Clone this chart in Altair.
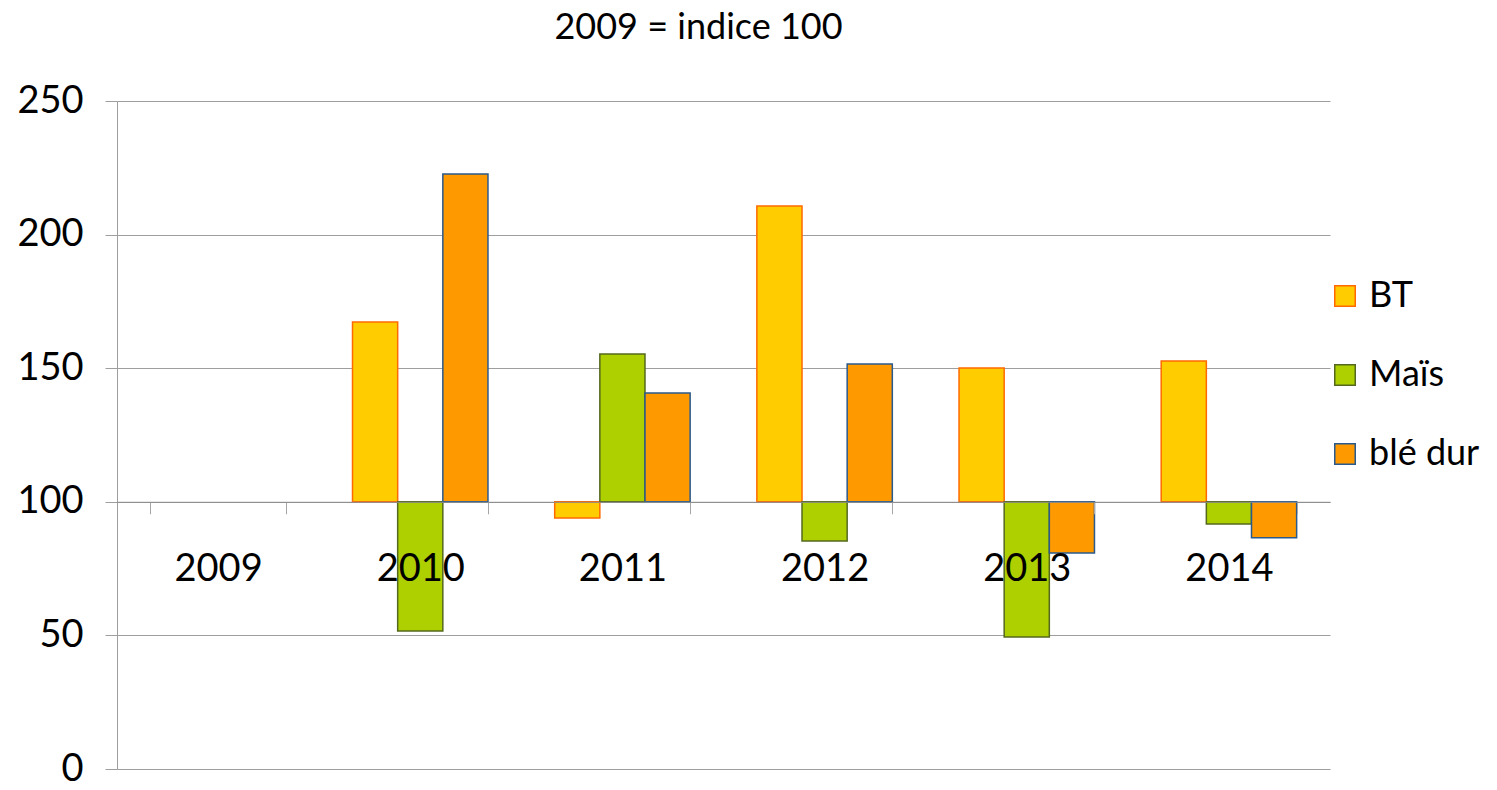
import altair as alt
import pandas as pd

years = ["2009", "2010", "2011", "2012", "2013", "2014"]
series = ["BT", "Maïs", "blé dur"]
bt = [100, 167.3, 93.9, 210.7, 150.1, 152.7]
mais = [100, 51.6, 155.3, 85.3, 49.4, 91.7]
ble_dur = [100, 222.7, 140.7, 151.6, 80.8, 86.5]
fills = ["#FFCC00", "#AECF00", "#FF9900"]
strokes = ["#FF6A00", "#55691E", "#2A5A8C"]
y_ticks = [0, 50, 100, 150, 200, 250]

rows = []
for s, vals in zip(series, [bt, mais, ble_dur]):
    for y, v in zip(years, vals):
        if v != 100:
            rows.append({"annee": y, "serie": s, "valeur": v, "base": 100})
df = pd.DataFrame(rows)

FONT = "Lato"

chart = alt.Chart(df).mark_bar(strokeWidth=1.5).encode(
    x=alt.X("annee:N", scale=alt.Scale(domain=years, paddingInner=0.33, paddingOuter=0.165),
            axis=alt.Axis(title=None, labelAngle=0, offset=-267.2, tickBand="extent",
                          tickSize=12, tickColor="#A6A6A6", domainColor="#8C8C8C",
                          labelFontSize=38, labelFont=FONT, labelColor="black",
                          labelPadding=37, zindex=1, grid=False)),
    xOffset=alt.XOffset("serie:N", scale=alt.Scale(domain=series)),
    y=alt.Y("valeur:Q", scale=alt.Scale(domain=[0, 250], nice=False),
            axis=alt.Axis(title=None, values=y_ticks, grid=True, gridColor="#9E9E9E",
                          domainColor="#9E9E9E", tickColor="#9E9E9E", tickSize=12,
                          labelFontSize=38, labelFont=FONT, labelColor="black",
                          labelPadding=22)),
    y2="base:Q",
    fill=alt.Fill("serie:N", scale=alt.Scale(domain=series, range=fills),
                  legend=alt.Legend(title=None, orient="none", legendX=1210, legendY=177,
                                    symbolType="square", symbolSize=420, labelFontSize=36,
                                    labelFont=FONT, labelColor="black", rowPadding=43,
                                    labelOffset=6, symbolStrokeWidth=1.5)),
    stroke=alt.Stroke("serie:N", scale=alt.Scale(domain=series, range=strokes)),
).properties(
    width=1213,
    height=668,
    title=alt.TitleParams("2009 = indice 100", fontSize=36, font=FONT, fontWeight="normal",
                          color="black", anchor="middle", dx=-25, offset=35),
    autosize=alt.AutoSizeParams(type="none"),
    padding={"left": 109, "top": 93, "right": 158, "bottom": 13},
).configure_view(stroke=None)

chart.save("out.html", embed_options={"renderer": "svg", "actions": False})
